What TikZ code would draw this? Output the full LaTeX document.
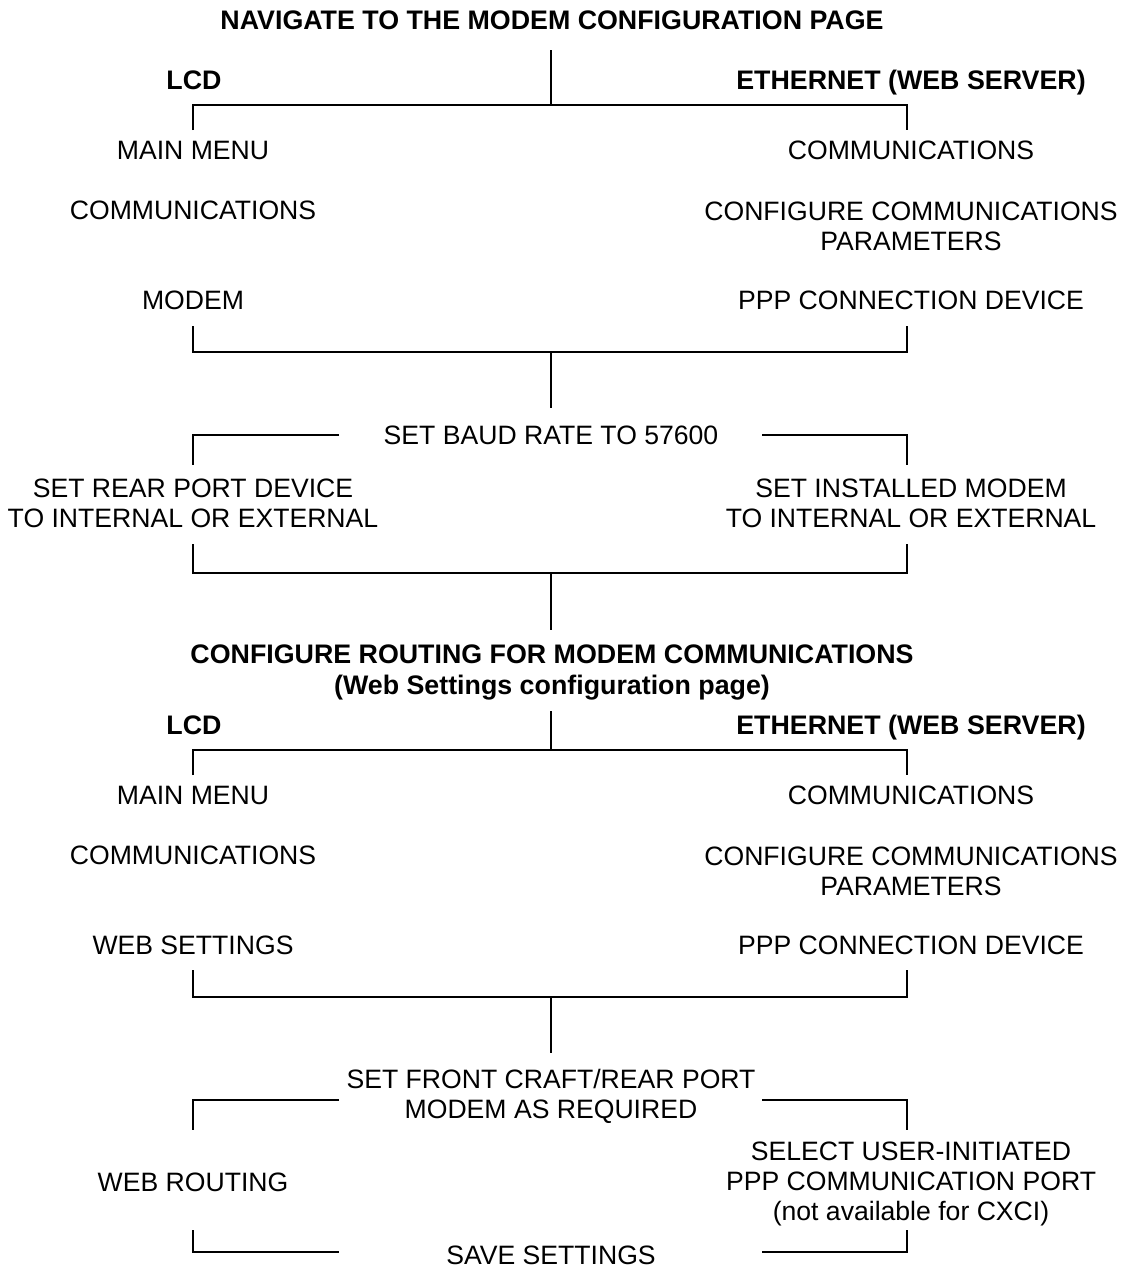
\documentclass[tikz,border=0pt]{standalone}
\usepackage{fontspec}
\setmainfont{Liberation Sans}
\begin{document}
\begin{tikzpicture}[x=1pt,y=-1pt,
  lbl/.style={font=\fontsize{26.6}{30}\selectfont, align=center, inner sep=0pt},
  hd/.style={font=\fontsize{26.8}{31}\selectfont\bfseries, align=center, inner sep=0pt},
  wire/.style={draw=black, line width=2.4pt, line join=miter}]
\useasboundingbox (0,0) rectangle (1122,1270);

% ---------- block 1 ----------
\node[hd] (t1) at (552,20) {NAVIGATE TO THE MODEM CONFIGURATION PAGE};
\node[hd, anchor=base] (lcd1) at (194,89.5) {LCD};
\node[hd, anchor=base] (eth1) at (911,89.5) {ETHERNET (WEB SERVER)};
\node[lbl] (mm1) at (193,150) {MAIN MENU};
\node[lbl] (com1) at (193,210) {COMMUNICATIONS};
\node[lbl] (mod1) at (193,300) {MODEM};
\node[lbl] (ecom1) at (911,150) {COMMUNICATIONS};
\node[lbl] (ecfg1) at (911,226) {CONFIGURE COMMUNICATIONS\\PARAMETERS};
\node[lbl] (ppp1) at (911,300) {PPP CONNECTION DEVICE};

\coordinate (a1) at (551,50);
\coordinate (a2) at (551,105);
\coordinate (a3l) at (193,130);
\coordinate (a3r) at (907,130);
\draw[wire] (a1) -- (a2);
\draw[wire] (a3l) |- (a2) -| (a3r);

\coordinate (b1l) at (193,326);
\coordinate (b1r) at (907,326);
\coordinate (b2) at (551,352);
\coordinate (b3) at (551,408);
\draw[wire] (b1l) |- (b2) -| (b1r);
\draw[wire] (b2) -- (b3);

\node[lbl] (baud) at (551,435) {SET BAUD RATE TO 57600};
\coordinate (c1l) at (339,435);
\coordinate (c1r) at (762,435);
\coordinate (c2l) at (193,465);
\coordinate (c2r) at (907,465);
\draw[wire] (c1l) -| (c2l);
\draw[wire] (c1r) -| (c2r);

\node[lbl] (rear) at (193,503) {SET REAR PORT DEVICE\\TO INTERNAL OR EXTERNAL};
\node[lbl] (inst) at (911,503) {SET INSTALLED MODEM\\TO INTERNAL OR EXTERNAL};

\coordinate (d1l) at (193,544);
\coordinate (d1r) at (907,544);
\coordinate (d2) at (551,573);
\coordinate (d3) at (551,630);
\draw[wire] (d1l) |- (d2) -| (d1r);
\draw[wire] (d2) -- (d3);

% ---------- block 2 ----------
\node[hd] (t2) at (552,672) {CONFIGURE ROUTING FOR MODEM COMMUNICATIONS\\(Web Settings configuration page)};
\node[hd, anchor=base] (lcd2) at (194,734.5) {LCD};
\node[hd, anchor=base] (eth2) at (911,734.5) {ETHERNET (WEB SERVER)};
\node[lbl] (mm2) at (193,795) {MAIN MENU};
\node[lbl] (com2) at (193,855) {COMMUNICATIONS};
\node[lbl] (web2) at (193,945) {WEB SETTINGS};
\node[lbl] (ecom2) at (911,795) {COMMUNICATIONS};
\node[lbl] (ecfg2) at (911,871) {CONFIGURE COMMUNICATIONS\\PARAMETERS};
\node[lbl] (ppp2) at (911,945) {PPP CONNECTION DEVICE};

\coordinate (e1) at (551,711);
\coordinate (e2) at (551,750);
\coordinate (e3l) at (193,775);
\coordinate (e3r) at (907,775);
\draw[wire] (e1) -- (e2);
\draw[wire] (e3l) |- (e2) -| (e3r);

\coordinate (f1l) at (193,970);
\coordinate (f1r) at (907,970);
\coordinate (f2) at (551,997);
\coordinate (f3) at (551,1053);
\draw[wire] (f1l) |- (f2) -| (f1r);
\draw[wire] (f2) -- (f3);

\node[lbl] (front) at (551,1096) {SET FRONT CRAFT/REAR PORT\\MODEM AS REQUIRED};
\coordinate (g1l) at (339,1100);
\coordinate (g1r) at (762,1100);
\coordinate (g2l) at (193,1130);
\coordinate (g2r) at (907,1130);
\draw[wire] (g1l) -| (g2l);
\draw[wire] (g1r) -| (g2r);

\node[lbl] (wr) at (193,1182) {WEB ROUTING};
\node[lbl] (sel) at (911,1184) {SELECT USER-INITIATED\\PPP COMMUNICATION PORT\\(not available for CXCI)};

\coordinate (h1l) at (193,1230);
\coordinate (h1r) at (907,1230);
\coordinate (h2l) at (339,1252);
\coordinate (h2r) at (762,1252);
\draw[wire] (h1l) |- (h2l);
\draw[wire] (h1r) |- (h2r);
\node[lbl] (save) at (551,1255.5) {SAVE SETTINGS};
\end{tikzpicture}
\end{document}
